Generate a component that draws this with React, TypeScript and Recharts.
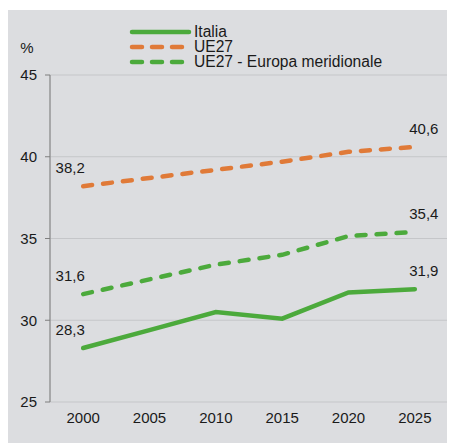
import { CartesianGrid, Label, Legend, Line, LineChart, XAxis, YAxis } from "recharts";

const years = [2000, 2005, 2010, 2015, 2020, 2025];
const italia = [28.3, 29.4, 30.5, 30.1, 31.7, 31.9];
const ue27 = [38.2, 38.7, 39.2, 39.7, 40.3, 40.6];
const europaMeridionale = [31.6, 32.5, 33.4, 34.0, 35.15, 35.4];
const yTicks = [25, 30, 35, 40, 45];
const bandEdges = [1997.5, 2002.5, 2007.5, 2012.5, 2017.5, 2022.5, 2027.5];

const GREEN = "#4caa3c";
const ORANGE = "#e07a38";
const FONT = "'Liberation Sans', Arial, sans-serif";

const series = [
  { key: "italia", name: "Italia", color: GREEN, dash: undefined },
  { key: "ue27", name: "UE27", color: ORANGE, dash: "9 11" },
  { key: "em", name: "UE27 - Europa meridionale", color: GREEN, dash: "9 11" },
];

const data = years.map((year, i) => ({
  year,
  italia: italia[i],
  ue27: ue27[i],
  em: europaMeridionale[i],
}));

const fmt = (v: number) => v.toFixed(1).replace(".", ",");

// only first and last points get a value label
function EndLabel(props: any) {
  const { x, y, value, index } = props;
  if (index !== 0 && index !== years.length - 1) return null;
  const dx = index === 0 ? -13 : 9;
  return (
    <text x={x + dx} y={y - 13} textAnchor="middle" fontSize={15} fill="#1a1a1a" fontFamily={FONT}>
      {fmt(value)}
    </text>
  );
}

function LegendBox() {
  return (
    <svg width={280} height={50}>
      {series.map((s, i) => (
        <g key={s.key}>
          <line
            x1={6}
            x2={63}
            y1={9 + i * 15}
            y2={9 + i * 15}
            stroke={s.color}
            strokeWidth={4.5}
            strokeLinecap="round"
            strokeDasharray={s.dash ? "10 10" : undefined}
          />
          <text x={68} y={14 + i * 15} fontSize={15.6} fill="#1a1a1a" fontFamily={FONT}>
            {s.name}
          </text>
        </g>
      ))}
    </svg>
  );
}

export default function App() {
  return (
    <div style={{ paddingTop: 2 }}>
      <div style={{ background: "#dcdde0", width: 447, height: 433 }}>
        <LineChart
          width={447}
          height={433}
          data={data}
          margin={{ top: 65, right: 7, left: 0, bottom: 0 }}
          style={{ fontFamily: FONT }}
        >
          <CartesianGrid stroke="#c5c6c9" xAxisId="edges" ticks={bandEdges} />
          <XAxis
            xAxisId="edges"
            dataKey="year"
            type="number"
            domain={[1997.5, 2027.5]}
            ticks={bandEdges}
            tick={false}
            height={0}
            tickSize={5}
            stroke="#7f7f7f"
          />
          <XAxis
            xAxisId="years"
            dataKey="year"
            type="number"
            domain={[1997.5, 2027.5]}
            ticks={years}
            height={41}
            axisLine={false}
            tickLine={false}
            tickSize={5}
            tickMargin={5}
            tick={{ fill: "#1a1a1a", fontSize: 15 }}
          />
          <YAxis
            domain={[25, 45]}
            ticks={yTicks}
            width={42}
            tickSize={5}
            tickMargin={8}
            stroke="#7f7f7f"
            tick={{ fill: "#1a1a1a", fontSize: 15 }}
          >
            <Label
              content={(p: any) => (
                <text x={p.viewBox.x + 19} y={p.viewBox.y - 22} textAnchor="middle" fontSize={15} fill="#1a1a1a" fontFamily={FONT}>
                  %
                </text>
              )}
            />
          </YAxis>
          <Legend
            layout="vertical"
            align="center"
            verticalAlign="middle"
            content={() => <LegendBox />}
            wrapperStyle={{ top: 13, left: 118, width: 280 }}
          />
          {series.map((s) => (
            <Line
              key={s.key}
              xAxisId="years"
              dataKey={s.key}
              name={s.name}
              type="linear"
              stroke={s.color}
              strokeWidth={4.5}
              strokeDasharray={s.dash}
              strokeLinecap="round"
              dot={false}
              activeDot={false}
              label={<EndLabel />}
              isAnimationActive={false}
            />
          ))}
        </LineChart>
      </div>
    </div>
  );
}
